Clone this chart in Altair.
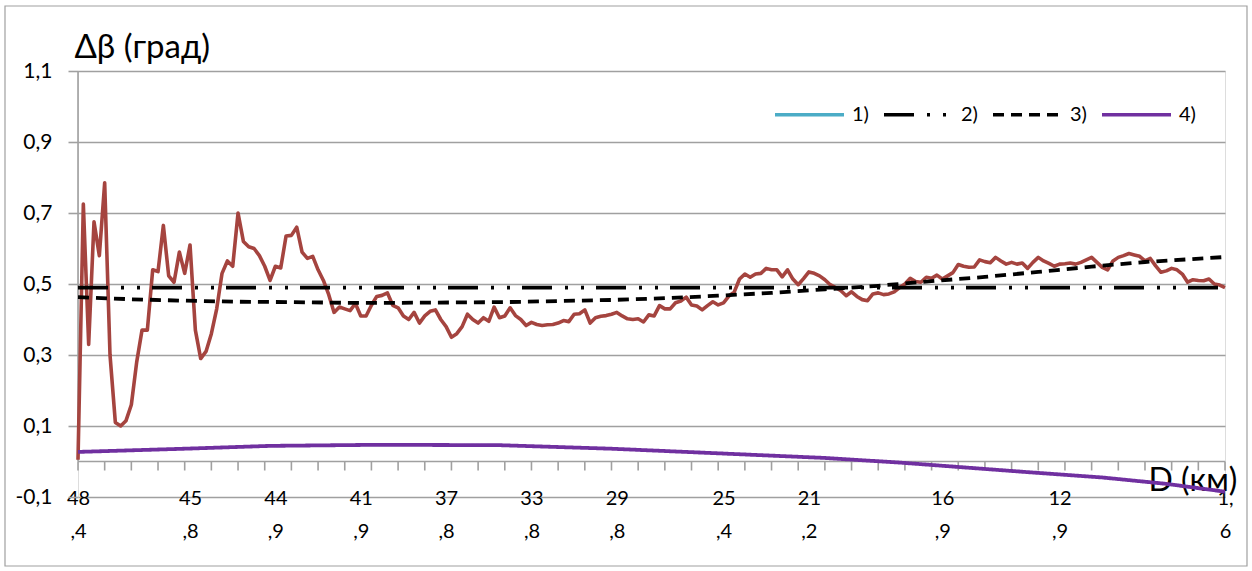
import altair as alt
import pandas as pd

# Measured deviation Δβ (degrees), one value per sample along the track
measured = [
    0.005, 0.725, 0.33, 0.675, 0.58, 0.785, 0.30, 0.11, 0.10, 0.115,
    0.16, 0.28, 0.37, 0.37, 0.54, 0.535, 0.665, 0.523, 0.505, 0.59,
    0.53, 0.61, 0.37, 0.29, 0.31, 0.36, 0.43, 0.53, 0.565, 0.55,
    0.70, 0.62, 0.605, 0.60, 0.58, 0.55, 0.51, 0.55, 0.545, 0.635,
    0.637, 0.66, 0.59, 0.572, 0.578, 0.54, 0.51, 0.47, 0.42, 0.435,
    0.43, 0.425, 0.445, 0.41, 0.41, 0.44, 0.465, 0.468, 0.475, 0.44,
    0.433, 0.41, 0.40, 0.42, 0.39, 0.41, 0.423, 0.427, 0.40, 0.38,
    0.35, 0.36, 0.38, 0.415, 0.40, 0.39, 0.405, 0.395, 0.435, 0.405,
    0.41, 0.433, 0.411, 0.40, 0.383, 0.392, 0.386, 0.383, 0.385, 0.386,
    0.39, 0.397, 0.394, 0.415, 0.416, 0.427, 0.39, 0.405, 0.409, 0.411,
    0.415, 0.42, 0.41, 0.402, 0.40, 0.402, 0.393, 0.413, 0.41, 0.439,
    0.43, 0.43, 0.447, 0.452, 0.463, 0.441, 0.438, 0.427, 0.439, 0.45,
    0.441, 0.447, 0.466, 0.477, 0.514, 0.528, 0.519, 0.528, 0.53, 0.544,
    0.54, 0.54, 0.52, 0.54, 0.514, 0.498, 0.515, 0.534, 0.53, 0.523,
    0.512, 0.498, 0.49, 0.481, 0.467, 0.478, 0.465, 0.456, 0.453, 0.472,
    0.475, 0.47, 0.472, 0.478, 0.49, 0.50, 0.516, 0.507, 0.505, 0.519,
    0.516, 0.525, 0.514, 0.523, 0.532, 0.555, 0.55, 0.547, 0.548, 0.568,
    0.563, 0.56, 0.575, 0.565, 0.556, 0.561, 0.556, 0.559, 0.544, 0.561,
    0.575, 0.565, 0.558, 0.55, 0.556, 0.557, 0.559, 0.556, 0.561, 0.568,
    0.575, 0.561, 0.547, 0.54, 0.565, 0.575, 0.58, 0.586, 0.582, 0.578,
    0.565, 0.572, 0.551, 0.533, 0.537, 0.544, 0.54, 0.528, 0.505, 0.512,
    0.51, 0.509, 0.514, 0.50, 0.497, 0.49,
]
n_samples = len(measured)
last = n_samples - 1

# Model curves, given at selected sample numbers
s2_idx = [0, last]
s2_val = [0.49, 0.49]

s3_idx = [0, 10, 20, 30, 40, 50, 60, 70, 80, 90, 100, 110, 120, 130, 140,
          150, 160, 170, 180, 190, 200, 215]
s3_val = [0.463, 0.457, 0.453, 0.45, 0.449, 0.447, 0.447, 0.448, 0.449, 0.452,
          0.455, 0.46, 0.467, 0.475, 0.485, 0.495, 0.508, 0.52, 0.534, 0.549,
          0.562, 0.576]

s4_idx = [0, 20, 36, 56, 79, 100, 117, 140, 154, 178, 192, 204, 215]
s4_val = [0.027, 0.036, 0.044, 0.047, 0.046, 0.036, 0.025, 0.01, -0.003,
          -0.03, -0.045, -0.063, -0.085]

series_names = ["1)", "2)", "3)", "4)"]
series_colors = ["#4BACC6", "#000000", "#000000", "#7030A0"]
series_dashes = [[1, 0], [30, 13, 3, 13, 3, 12], [11, 7], [1, 0]]

# Distance labels (km) shown under selected samples
label_idx = [0, 21, 37, 53, 69, 85, 101, 121, 137, 162, 184, 215]
label_top = ["48", "45", "44", "41", "37", "33", "29", "25", "21", "16", "12", "1,"]
label_bot = [",4", ",8", ",9", ",9", ",8", ",8", ",8", ",4", ",2", ",9", ",9", "6"]

tick_idx = list(range(0, n_samples, 5))
y_ticks = [-0.1, 0.1, 0.3, 0.5, 0.7, 0.9, 1.1]

GRID = "#A0A0A0"
FONT = "Lato"

measured_df = pd.DataFrame({"i": list(range(n_samples)), "v": measured})
model_df = pd.concat([
    pd.DataFrame({"i": s2_idx, "v": s2_val, "s": "2)"}),
    pd.DataFrame({"i": s3_idx, "v": s3_val, "s": "3)"}),
    pd.DataFrame({"i": s4_idx, "v": s4_val, "s": "4)"}),
])
ticks_df = pd.DataFrame({"i": tick_idx, "z": [0.0] * len(tick_idx)})

label_array = "[" + ",".join(
    "['%s','%s']" % (a, b) for a, b in zip(label_top, label_bot)) + "]"
label_expr = "%s[indexof([%s], datum.value)]" % (
    label_array, ",".join(str(v) for v in label_idx))

x_scale = alt.Scale(domain=[0, last], nice=False, zero=False)
y_scale = alt.Scale(domain=[-0.1, 1.1], nice=False, zero=False)

x_axis = alt.Axis(
    values=label_idx, labelExpr=label_expr, grid=False, domain=False,
    ticks=False, labelFlush=False, labelOverlap=False, labelBaseline="top",
    labelPadding=-9, labelLineHeight=33, labelFontSize=20, labelFont=FONT,
    labelColor="#000000", title="D (км)", titleFont=FONT, titleFontSize=32,
    titleFontWeight="normal", titleColor="#000000", titleAnchor="start",
    titleAlign="left", titleBaseline="alphabetic", titleX=1070, titleY=-7,
)
y_axis = alt.Axis(
    values=y_ticks,
    labelExpr="replace(replace(format(datum.value, '.1f'), '.', ','), '\u2212', '-')",
    grid=True, gridColor=GRID, gridWidth=1.6, domain=False, ticks=True,
    tickSize=10, tickColor=GRID, tickWidth=1.6, labelPadding=16,
    labelFontSize=21, labelFont=FONT, labelColor="#000000",
    title="Δβ (град)", titleFont=FONT, titleFontSize=33,
    titleFontWeight="normal", titleColor="#000000", titleAngle=0,
    titleAlign="left", titleBaseline="alphabetic", titleX=-4, titleY=-14,
)

base_x = alt.X("i:Q", scale=x_scale, axis=x_axis)
base_y = alt.Y("v:Q", scale=y_scale, axis=y_axis)

# Vertical axis line from 0 up to the top of the range
y_line = alt.Chart(pd.DataFrame({"i": [0], "lo": [0.0], "hi": [1.1]})).mark_rule(
    color=GRID, strokeWidth=1.6
).encode(x=alt.X("i:Q", scale=x_scale), y=alt.Y("lo:Q", scale=y_scale), y2="hi:Q")

# Horizontal category axis crossing at zero
x_line = alt.Chart(pd.DataFrame({"a": [0], "b": [last], "z": [0.0]})).mark_rule(
    color=GRID, strokeWidth=1.6
).encode(x=alt.X("a:Q", scale=x_scale), x2="b:Q", y=alt.Y("z:Q", scale=y_scale))

# Tick marks hanging below the zero line
tick_marks = alt.Chart(ticks_df).mark_tick(
    color=GRID, thickness=1.6, size=9, orient="vertical", yOffset=4.5, opacity=1
).encode(x=alt.X("i:Q", scale=x_scale), y=alt.Y("z:Q", scale=y_scale))

measured_line = alt.Chart(measured_df).mark_line(
    color="#A5443F", strokeWidth=3.6, strokeJoin="round"
).encode(x=base_x, y=base_y)

legend = alt.Legend(
    title=None, orient="none", legendX=695, legendY=7, direction="horizontal",
    symbolType="stroke", symbolSize=4761, symbolStrokeWidth=3.5,
    labelFont=FONT, labelFontSize=20, labelColor="#000000",
    labelOffset=6, columnPadding=8, padding=0,
)

model_lines = alt.Chart(model_df).mark_line(strokeWidth=3.8).encode(
    x=alt.X("i:Q", scale=x_scale),
    y=alt.Y("v:Q", scale=y_scale),
    color=alt.Color("s:N", scale=alt.Scale(domain=series_names, range=series_colors),
                    legend=legend),
    strokeDash=alt.StrokeDash("s:N", scale=alt.Scale(domain=series_names, range=series_dashes),
                              legend=legend),
)

# Outer frame of the chart area
frame = alt.Chart(pd.DataFrame({"k": [0]})).mark_rect(
    fill=None, stroke="#A0A0A0", strokeWidth=1.2
).encode(x=alt.value(-73), x2=alt.value(1169), y=alt.value(-65), y2=alt.value(495))

chart = alt.layer(
    frame, y_line, x_line, tick_marks, measured_line, model_lines
).properties(
    width=1147, height=426,
    padding={"left": 78, "top": 71, "right": 27, "bottom": 74},
    autosize=alt.AutoSizeParams(type="none"),
).configure_view(stroke=None).configure(background="#FFFFFF")

chart.save("out.html", embed_options={"renderer": "svg", "actions": False})
